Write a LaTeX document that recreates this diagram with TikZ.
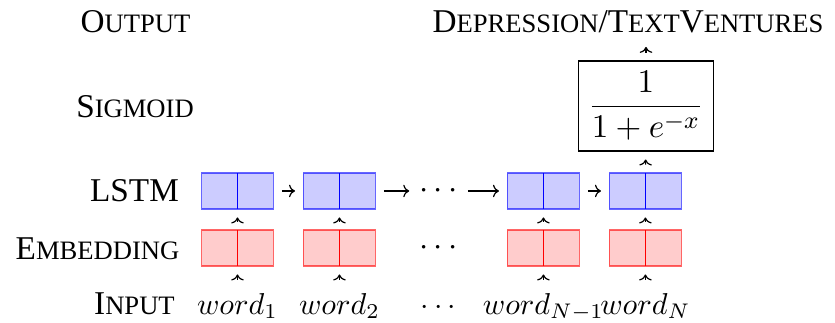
\documentclass[tikz,border=0pt]{standalone}
\usepackage{fontspec}
\setmainfont{Liberation Serif}
\usetikzlibrary{calc, positioning}
\usetikzlibrary{arrows.meta}

\newcommand{\smcaps}[2]{#1{\fontsize{8.8}{10}\selectfont #2}}

\begin{document}
\begin{tikzpicture}[
  font=\fontsize{11}{13}\selectfont,
  rowname/.style={anchor=base},
  wordname/.style={anchor=base, font=\fontsize{10}{12}\selectfont},
  lstmcell/.style={draw=blue, draw opacity=0.6, fill=blue!20, inner sep=0pt,
    minimum width=0.837cm, minimum height=0.419cm,
    path picture={\draw[blue, draw opacity=1] (path picture bounding box.north) -- (path picture bounding box.south);}},
  embcell/.style={draw=red, draw opacity=0.6, fill=red!20, inner sep=0pt,
    minimum width=0.837cm, minimum height=0.419cm,
    path picture={\draw[red, draw opacity=1] (path picture bounding box.north) -- (path picture bounding box.south);}},
  link/.style={-{To[scale=0.8]}, shorten <=2.6pt, shorten >=2.6pt}
]
\useasboundingbox (0,0) rectangle (9.711,3.745);

% row names
\node[rowname] (output) at (1.576,3.365) {\smcaps{O}{UTPUT}};
\node[rowname] (sigmoid) at (1.570,2.384) {\smcaps{S}{IGMOID}};
\node[rowname] (lstm) at (1.564,1.399) {LSTM};
\node[rowname] (embedding) at (1.134,0.73) {\smcaps{E}{MBEDDING}};
\node[rowname] (input) at (1.564,0.09) {\smcaps{I}{NPUT}};

% cells per word
\foreach \col/\xpos/\word in {1/2.762/word_1,2/3.948/word_2,4/6.320/word_{N-1},5/7.506/word_N} {
  \node[lstmcell] (L\col) at (\xpos,1.524) {};
  \node[embcell] (E\col) at (\xpos,0.861) {};
  \node[wordname] (W\col) at (\xpos,0.09) {$\word$};
}

\node[inner sep=0.5pt] (Ldots) at (5.10,1.524) {$\cdots$};
\node (Edots) at (5.10,0.861) {$\cdots$};
\node[wordname] (Wdots) at (5.10,0.09) {$\cdots$};

\draw[link] (L1) -- (L2);
\draw[link] (L2) -- (Ldots);
\draw[link] (Ldots) -- (L4);
\draw[link] (L4) -- (L5);

\foreach \col in {1,2,4,5} {
  \draw[link] (E\col) -- (L\col);
  \draw[link, shorten <=1pt] (W\col) -- (E\col);
}

% sigmoid and output
\node[draw, minimum width=1.489cm, minimum height=1.047cm] (sig) at (7.513,2.512)
  {$\displaystyle\frac{1}{1+e^{-x}}$};
\node[anchor=base] (target) at (7.304,3.365)
  {\smcaps{D}{EPRESSION}/\smcaps{T}{EXT}\smcaps{V}{ENTURES}};
\draw[link] (L5) -- (sig);
\draw[link, shorten >=1pt] (sig) -- (sig.north |- target.south);
\end{tikzpicture}
\end{document}
